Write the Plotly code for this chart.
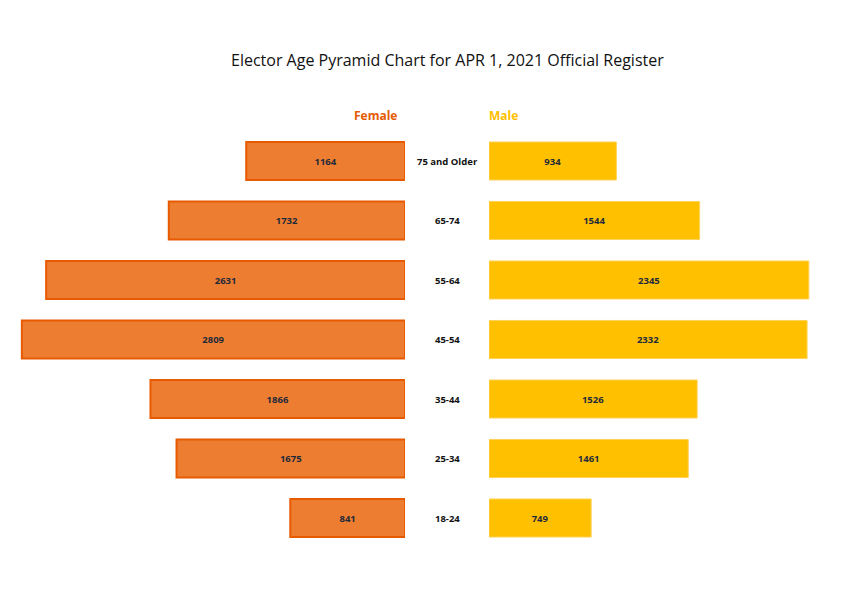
import plotly.graph_objects as go

age_groups = ["18-24", "25-34", "35-44", "45-54", "55-64", "65-74", "75 and Older"]
female = [841, 1675, 1866, 2809, 2631, 1732, 1164]
male = [749, 1461, 1526, 2332, 2345, 1544, 934]
title = "Elector Age Pyramid Chart for APR 1, 2021 Official Register"

W, H = 864, 591
scale = 0.1364  # px per voter
f_zero_px = 405
m_zero_px = 489
f_max = f_zero_px / scale
m_max = (W - m_zero_px) / scale

idx = list(range(len(age_groups)))
row_px = 59.5
ymin = -(H - 518) / row_px
ymax = 6 + 161 / row_px

fig = go.Figure()
fig.add_trace(go.Bar(
    x=female, y=idx, orientation="h", xaxis="x", yaxis="y",
    marker=dict(color="#ED7D31", line=dict(color="#E85A00", width=2)),
    width=0.64, text=[str(v) for v in female], textposition="inside",
    insidetextanchor="middle", textangle=0,
    textfont=dict(family="Open Sans", size=9.5, color="#1F2A3A", weight="bold"),
    name="Female", showlegend=False, hoverinfo="x"))
fig.add_trace(go.Bar(
    x=male, y=idx, orientation="h", xaxis="x2", yaxis="y",
    marker=dict(color="#FFC000", line=dict(color="#FFD35A", width=1)),
    width=0.64, text=[str(v) for v in male], textposition="inside",
    insidetextanchor="middle", textangle=0,
    textfont=dict(family="Open Sans", size=9.5, color="#1F2A3A", weight="bold"),
    name="Male", showlegend=False, hoverinfo="x"))

annotations = []
for i, g in zip(idx, age_groups):
    annotations.append(dict(x=447 / W, y=i, xref="paper", yref="y", text=f"<b>{g}</b>",
                            showarrow=False, font=dict(family="Open Sans", size=9.5, color="#111111")))
annotations.append(dict(x=375 / W, y=1 - 116 / H, xref="paper", yref="paper", text="<b>Female</b>",
                        xanchor="center", yanchor="middle",
                        showarrow=False, font=dict(family="Open Sans", size=12, color="#E55A00")))
annotations.append(dict(x=503 / W, y=1 - 116 / H, xref="paper", yref="paper", text="<b>Male</b>",
                        xanchor="center", yanchor="middle",
                        showarrow=False, font=dict(family="Open Sans", size=12, color="#FFC000")))
annotations.append(dict(x=447 / W, y=1 - 60 / H, xref="paper", yref="paper", text=title,
                        xanchor="center", yanchor="middle",
                        showarrow=False, font=dict(family="Open Sans", size=16, color="#111111")))

fig.update_layout(
    width=W, height=H, margin=dict(l=0, r=0, t=0, b=0),
    paper_bgcolor="white", plot_bgcolor="white",
    xaxis=dict(domain=[0, f_zero_px / W], range=[f_max, 0], visible=False, fixedrange=True),
    xaxis2=dict(domain=[m_zero_px / W, 1], range=[0, m_max], visible=False, fixedrange=True),
    yaxis=dict(range=[ymin, ymax], visible=False, fixedrange=True),
    annotations=annotations, uniformtext=dict(minsize=6, mode="show"),
)

fig.write_html("out.html", config={"displayModeBar": False},
               post_script="document.body.style.margin='0';")
